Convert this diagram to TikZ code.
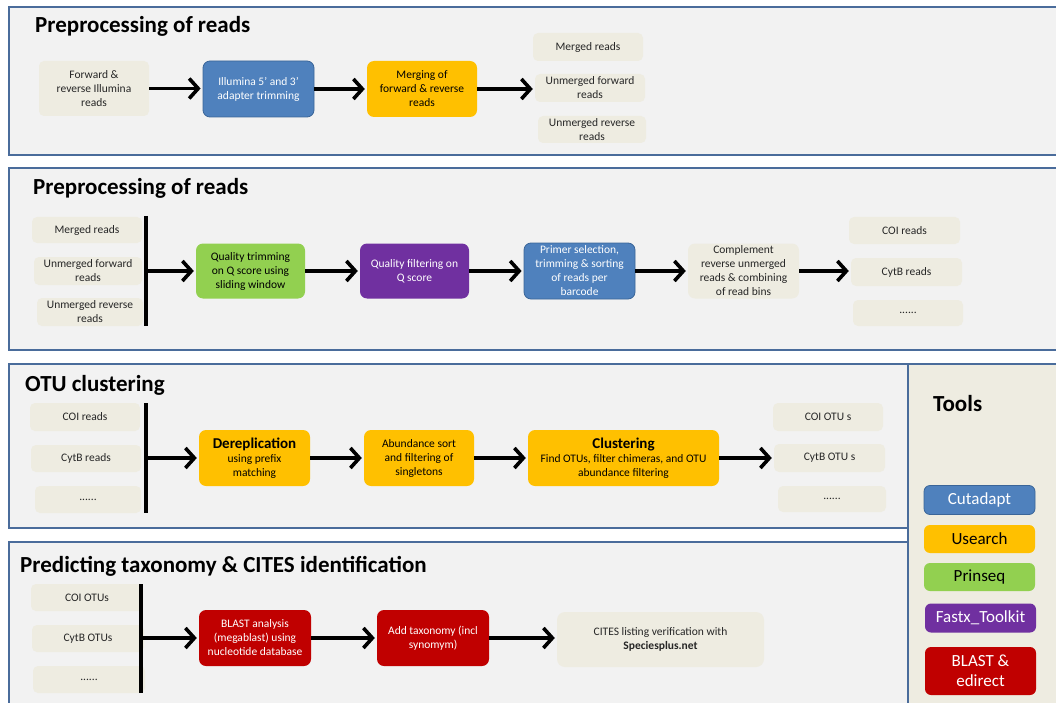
\documentclass[tikz,border=0pt]{standalone}
\usepackage{fontspec}
\setmainfont{Carlito}
\usetikzlibrary{arrows.meta}
\definecolor{panelbg}{HTML}{F2F2F2}
\definecolor{panelbd}{HTML}{4A6C9B}
\definecolor{beige}{HTML}{EEECE1}
\definecolor{cblue}{HTML}{4F81BD}
\definecolor{cbluebd}{HTML}{3A6598}
\definecolor{cyellow}{HTML}{FFC000}
\definecolor{cgreen}{HTML}{92D050}
\definecolor{cpurple}{HTML}{7030A0}
\definecolor{cred}{HTML}{C00000}
\definecolor{txt}{HTML}{262626}
\begin{document}
\begin{tikzpicture}[x=1pt,y=-1pt,
  panel/.style={fill=panelbg, draw=panelbd, line width=1.4pt},
  toolpanel/.style={fill=beige, draw=panelbd, line width=1.4pt},
  title/.style={anchor=west, inner sep=0pt, font=\fontsize{23}{27}\selectfont\bfseries},
  sz/.style 2 args={minimum width=#1pt, minimum height=#2pt},
  box/.style={rounded corners=7pt, align=center, inner sep=1pt, text=txt,
              font=\fontsize{11.5}{14}\selectfont},
  inbox/.style={box, fill=beige, rounded corners=5pt},
  bluebox/.style={box, fill=cblue, draw=cbluebd, line width=0.8pt, text=white},
  yellowbox/.style={box, fill=cyellow, text=black},
  greenbox/.style={box, fill=cgreen, text=black},
  purplebox/.style={box, fill=cpurple, text=white},
  redbox/.style={box, fill=cred, text=white},
  toolbox/.style={rounded corners=6pt, align=center, inner sep=1pt,
              font=\fontsize{17}{20}\selectfont, minimum width=111pt},
  flow/.style={line width=3.6pt, shorten >=2pt,
              -{Straight Barb[length=9pt,width=20pt,line width=3.6pt]}},
  bar/.style={line width=3.5pt}
]
\useasboundingbox (0,0) rectangle (1056,703);
\clip (0,0) rectangle (1056,703);
\fill[white] (0,0) rectangle (1056,703);

% ---------- panels ----------
\draw[panel] (9,7) rectangle (1075,155);
\draw[panel] (9,168) rectangle (1075,350);
\draw[toolpanel] (908,364) rectangle (1075,720);
\draw[panel] (9,364) rectangle (908,528);
\draw[panel] (9,542) rectangle (908,720);

% ---------- panel 1 ----------
\node[title] (t1) at (35,26) {Preprocessing of reads};
\node[inbox, sz={110}{55}] (fr) at (94,88.5) {Forward \&\\reverse Illumina\\reads};
\node[bluebox, sz={111}{56}] (ill) at (258.5,89) {Illumina 5’ and 3’\\adapter trimming};
\node[yellowbox, sz={110}{56}] (mrg) at (422,89) {Merging of\\forward \&  reverse\\reads};
\node[inbox, sz={110}{28}] (mr) at (588,47) {Merged reads};
\node[inbox, sz={110}{28}] (uf) at (590,88) {Unmerged forward\\reads};
\node[inbox, sz={108}{27}] (ur) at (592,129.5) {Unmerged reverse\\reads};
\draw[flow] (fr.east) -- (ill.west |- fr.east);
\draw[flow] (ill.east) -- (mrg.west |- ill.east);
\draw[flow] (mrg.east) -- (mrg.east -| uf.west);

% ---------- panel 2 ----------
\node[title] (t2) at (33,188) {Preprocessing of reads};
\node[inbox, sz={110}{26}] (p2m) at (87,230) {Merged reads};
\node[inbox, sz={108}{28}] (p2f) at (88,271) {Unmerged forward\\reads};
\node[inbox, sz={106}{28}] (p2r) at (90,312) {Unmerged reverse\\reads};
\coordinate (b2t) at (146,216);
\coordinate (b2b) at (146,326);
\draw[bar] (b2t) -- (b2b);
\coordinate (b2o) at (146,271);
\node[greenbox, sz={109}{55}] (qt) at (250.5,271) {Quality trimming\\on Q score using\\sliding window};
\node[purplebox, sz={109}{55}] (qf) at (414.5,271) {Quality filtering on\\Q score};
\node[bluebox, sz={111}{56}] (ps) at (579.5,271) {Primer selection,\\trimming \& sorting\\of reads per\\barcode};
\node[inbox, rounded corners=7pt, sz={111}{55}] (cr) at (743.5,271) {Complement\\reverse unmerged\\reads \& combining\\of read bins};
\node[inbox, sz={111}{27}] (coi) at (904.5,230.5) {COI reads};
\node[inbox, sz={111}{28}] (cytb) at (906.5,272) {CytB reads};
\node[inbox, sz={110}{26}] (dots) at (908,313) {......};
\draw[flow] (b2o) -- (qt.west |- b2o);
\draw[flow] (qt.east) -- (qf.west |- qt.east);
\draw[flow] (qf.east) -- (ps.west |- qf.east);
\draw[flow] (ps.east) -- (cr.west |- ps.east);
\draw[flow] (cr.east) -- (cr.east -| cytb.west);

% ---------- panel 3 ----------
\node[title] (t3) at (25,385) {OTU clustering};
\node[inbox, sz={110}{28}] (coi3) at (85,417) {COI reads};
\node[inbox, sz={110}{27}] (cytb3) at (86,458.5) {CytB reads};
\node[inbox, sz={106}{27}] (dots3) at (88,499.5) {......};
\coordinate (b3t) at (146,403);
\coordinate (b3b) at (146,513);
\draw[bar] (b3t) -- (b3b);
\coordinate (b3o) at (146,458);
\node[yellowbox, sz={111}{56}] (derep) at (254.5,458) {{\fontsize{15}{16}\selectfont\bfseries Dereplication}\\using prefix\\matching};
\node[yellowbox, sz={110}{56}] (abund) at (419,458) {Abundance sort\\and filtering of\\singletons};
\node[yellowbox, sz={191}{56}] (clust) at (623.5,458) {{\fontsize{15}{16}\selectfont\bfseries Clustering}\\Find OTUs, filter chimeras, and  OTU\\abundance filtering};
\node[inbox, sz={110}{28}] (coio) at (828,417) {COI OTU s};
\node[inbox, sz={111}{28}] (cytbo) at (829.5,458) {CytB OTU s};
\node[inbox, sz={108}{26}] (dots3r) at (832,499) {......};
\draw[flow] (b3o) -- (derep.west |- b3o);
\draw[flow] (derep.east) -- (abund.west |- derep.east);
\draw[flow] (abund.east) -- (clust.west |- abund.east);
\draw[flow] (clust.east) -- (clust.east -| cytbo.west);

% ---------- panel 4 ----------
\node[title] (t4) at (20,566) {Predicting taxonomy \& CITES identification};
\node[inbox, sz={112}{27}] (coi4) at (87,597.5) {COI OTUs};
\node[inbox, sz={112}{27}] (cytb4) at (88,638.5) {CytB OTUs};
\node[inbox, sz={112}{27}] (dots4) at (89,679.5) {......};
\coordinate (b4t) at (141,584);
\coordinate (b4b) at (141,693);
\draw[bar] (b4t) -- (b4b);
\coordinate (b4o) at (141,638);
\node[redbox, sz={112}{56}] (blast) at (255,638) {BLAST analysis\\(megablast) using\\nucleotide database};
\node[redbox, sz={112}{56}] (tax) at (433,638) {Add taxonomy (incl\\synomym)};
\node[inbox, rounded corners=8pt, sz={207}{55}] (cites) at (660.5,639.5) {CITES listing verification with\\\textbf{Speciesplus.net}};
\draw[flow] (b4o) -- (blast.west |- b4o);
\draw[flow] (blast.east) -- (tax.west |- blast.east);
\draw[flow] (tax.east) -- (tax.east -| cites.west);

% ---------- tools ----------
\node[anchor=west, inner sep=0pt, font=\fontsize{23}{27}\selectfont\bfseries] (tt) at (933,404) {Tools};
\node[toolbox, fill=cblue, draw=cbluebd, line width=0.8pt, text=white, minimum height=29pt] (tcut) at (979.5,500) {Cutadapt};
\node[toolbox, fill=cyellow, text=black, minimum height=28pt] (tuse) at (979.5,539) {Usearch};
\node[toolbox, fill=cgreen, text=black, minimum height=28pt] (tpri) at (979.5,577) {Prinseq};
\node[toolbox, fill=cpurple, text=white, minimum height=29pt] (tfas) at (980.5,618) {Fastx\_Toolkit};
\node[toolbox, fill=cred, text=white, minimum height=48pt] (tbla) at (980.5,671) {BLAST \&\\edirect};
\end{tikzpicture}
\end{document}
